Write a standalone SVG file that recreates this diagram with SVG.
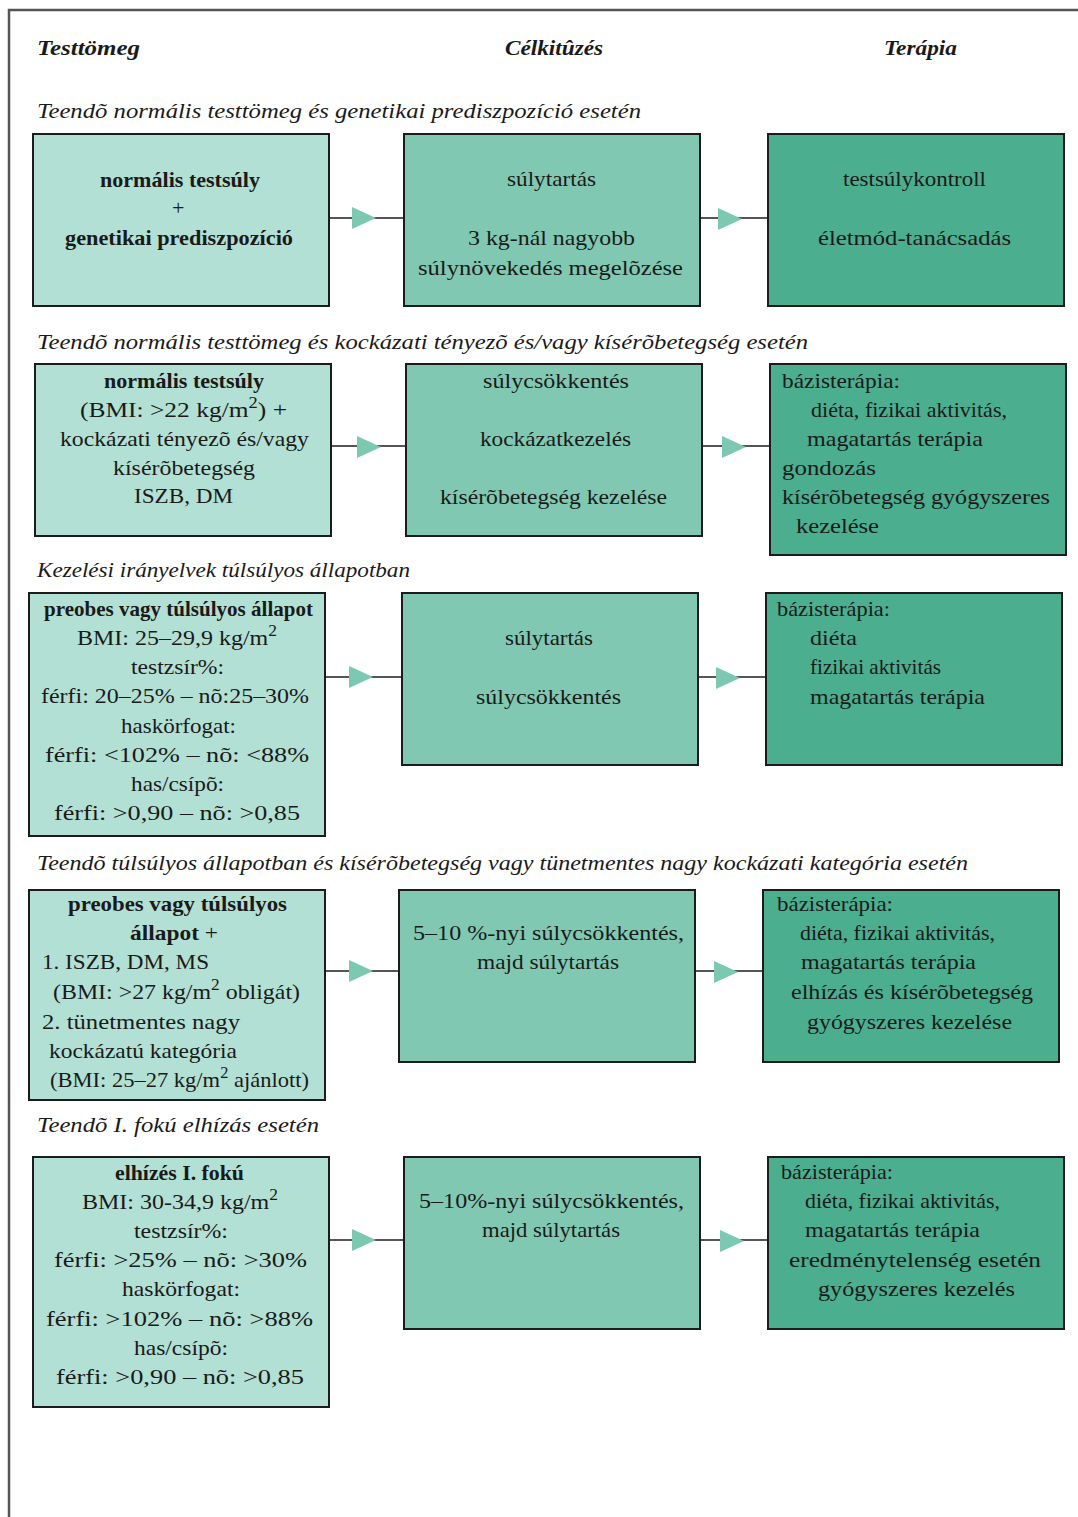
<svg xmlns="http://www.w3.org/2000/svg" width="1078" height="1517" viewBox="0 0 1078 1517">
<style>
text{font-family:"Liberation Serif","DejaVu Serif",serif;font-size:22px;fill:#1a1a1a}
.h{font-weight:bold;font-style:italic;font-size:21px}
.s{font-style:italic}
.b{font-weight:bold}
.a{fill:#b2e0d4;stroke:#1c1c1c;stroke-width:2}
.m{fill:#80c8b2;stroke:#1c1c1c;stroke-width:2}
.c{fill:#4bae8f;stroke:#1c1c1c;stroke-width:2}
.ln{stroke:#1c1c1c;stroke-width:1.6}
.tri{fill:#7cc8b0}
.sup{font-size:16px}
</style>
<defs>
<path id="tri" d="M0,-11 L24,0 L0,11 Z"/>
</defs>
<rect width="1078" height="1517" fill="#fff"/>
<path d="M9,1517 V10 H1078" fill="none" stroke="#555" stroke-width="2.5"/>

<g id="headers">
<text class="h" x="37" y="55" textLength="103" lengthAdjust="spacingAndGlyphs">Testtömeg</text>
<text class="h" x="505" y="55" textLength="98" lengthAdjust="spacingAndGlyphs">Célkitûzés</text>
<text class="h" x="884" y="55" textLength="73" lengthAdjust="spacingAndGlyphs">Terápia</text>
<text class="s" x="37" y="118" textLength="604" lengthAdjust="spacingAndGlyphs">Teendõ normális testtömeg és genetikai prediszpozíció esetén</text>
<text class="s" x="37" y="349" textLength="771" lengthAdjust="spacingAndGlyphs">Teendõ normális testtömeg és kockázati tényezõ és/vagy kísérõbetegség esetén</text>
<text class="s" x="37" y="577" textLength="373" lengthAdjust="spacingAndGlyphs">Kezelési irányelvek túlsúlyos állapotban</text>
<text class="s" x="37" y="870" textLength="931" lengthAdjust="spacingAndGlyphs">Teendõ túlsúlyos állapotban és kísérõbetegség vagy tünetmentes nagy kockázati kategória esetén</text>
<text class="s" x="37" y="1132" textLength="282" lengthAdjust="spacingAndGlyphs">Teendõ I. fokú elhízás esetén</text>
</g>

<g id="connectors">
<line class="ln" x1="329" y1="218" x2="404" y2="218"/><use href="#tri" class="tri" x="352" y="218"/>
<line class="ln" x1="700" y1="218" x2="768" y2="218"/><use href="#tri" class="tri" x="718" y="219"/>
<line class="ln" x1="331" y1="446" x2="406" y2="446"/><use href="#tri" class="tri" x="357" y="447"/>
<line class="ln" x1="702" y1="446" x2="770" y2="446"/><use href="#tri" class="tri" x="722" y="447"/>
<line class="ln" x1="325" y1="677" x2="402" y2="677"/><use href="#tri" class="tri" x="349" y="677"/>
<line class="ln" x1="698" y1="677" x2="766" y2="677"/><use href="#tri" class="tri" x="716" y="678"/>
<line class="ln" x1="325" y1="971" x2="399" y2="971"/><use href="#tri" class="tri" x="349" y="971"/>
<line class="ln" x1="695" y1="971" x2="763" y2="971"/><use href="#tri" class="tri" x="714" y="972"/>
<line class="ln" x1="329" y1="1240" x2="404" y2="1240"/><use href="#tri" class="tri" x="352" y="1240"/>
<line class="ln" x1="700" y1="1240" x2="768" y2="1240"/><use href="#tri" class="tri" x="720" y="1241"/>
</g>

<g id="r1a"><rect class="a" x="33" y="134" width="296" height="172"/>
<text class="b" x="100" y="187" textLength="160" lengthAdjust="spacingAndGlyphs">normális testsúly</text>
<text x="172" y="215">+</text>
<text class="b" x="65" y="245" textLength="228" lengthAdjust="spacingAndGlyphs">genetikai prediszpozíció</text></g>
<g id="r1b"><rect class="m" x="404" y="134" width="296" height="172"/>
<text x="507" y="186" textLength="89" lengthAdjust="spacingAndGlyphs">súlytartás</text>
<text x="468" y="245" textLength="167" lengthAdjust="spacingAndGlyphs">3 kg-nál nagyobb</text>
<text x="418" y="275" textLength="265" lengthAdjust="spacingAndGlyphs">súlynövekedés megelõzése</text></g>
<g id="r1c"><rect class="c" x="768" y="134" width="296" height="172"/>
<text x="843" y="186" textLength="143" lengthAdjust="spacingAndGlyphs">testsúlykontroll</text>
<text x="818" y="245" textLength="193" lengthAdjust="spacingAndGlyphs">életmód-tanácsadás</text></g>

<g id="r2a"><rect class="a" x="35" y="364" width="296" height="172"/>
<text class="b" x="104" y="388" textLength="160" lengthAdjust="spacingAndGlyphs">normális testsúly</text>
<text x="80" y="417" textLength="207" lengthAdjust="spacingAndGlyphs">(BMI: &gt;22 kg/m<tspan class="sup" dy="-9">2</tspan><tspan dy="9">)  +</tspan></text>
<text x="60" y="446" textLength="249" lengthAdjust="spacingAndGlyphs">kockázati tényezõ és/vagy</text>
<text x="113" y="475" textLength="142" lengthAdjust="spacingAndGlyphs">kísérõbetegség</text>
<text x="134" y="503" textLength="99" lengthAdjust="spacingAndGlyphs">ISZB, DM</text></g>
<g id="r2b"><rect class="m" x="406" y="364" width="296" height="172"/>
<text x="483" y="388" textLength="146" lengthAdjust="spacingAndGlyphs">súlycsökkentés</text>
<text x="480" y="446" textLength="151" lengthAdjust="spacingAndGlyphs">kockázatkezelés</text>
<text x="440" y="504" textLength="227" lengthAdjust="spacingAndGlyphs">kísérõbetegség kezelése</text></g>
<g id="r2c"><rect class="c" x="770" y="364" width="296" height="191"/>
<text x="782" y="388" textLength="118" lengthAdjust="spacingAndGlyphs">bázisterápia:</text>
<text x="811" y="417" textLength="196" lengthAdjust="spacingAndGlyphs">diéta, fizikai aktivitás,</text>
<text x="807" y="446" textLength="176" lengthAdjust="spacingAndGlyphs">magatartás terápia</text>
<text x="782" y="475" textLength="94" lengthAdjust="spacingAndGlyphs">gondozás</text>
<text x="782" y="504" textLength="268" lengthAdjust="spacingAndGlyphs">kísérõbetegség gyógyszeres</text>
<text x="796" y="533" textLength="83" lengthAdjust="spacingAndGlyphs">kezelése</text></g>

<g id="r3a"><rect class="a" x="29" y="593" width="296" height="243"/>
<text class="b" x="44" y="616" textLength="269" lengthAdjust="spacingAndGlyphs">preobes vagy túlsúlyos állapot</text>
<text x="77" y="645" textLength="200" lengthAdjust="spacingAndGlyphs">BMI: 25–29,9 kg/m<tspan class="sup" dy="-9">2</tspan></text>
<text x="131" y="674" textLength="93" lengthAdjust="spacingAndGlyphs">testzsír%:</text>
<text x="41" y="703" textLength="268" lengthAdjust="spacingAndGlyphs">férfi: 20–25% – nõ:25–30%</text>
<text x="121" y="733" textLength="115" lengthAdjust="spacingAndGlyphs">haskörfogat:</text>
<text x="45" y="762" textLength="264" lengthAdjust="spacingAndGlyphs">férfi: &lt;102% – nõ: &lt;88%</text>
<text x="131" y="791" textLength="93" lengthAdjust="spacingAndGlyphs">has/csípõ:</text>
<text x="54" y="820" textLength="246" lengthAdjust="spacingAndGlyphs">férfi: &gt;0,90 – nõ: &gt;0,85</text></g>
<g id="r3b"><rect class="m" x="402" y="593" width="296" height="172"/>
<text x="505" y="645" textLength="88" lengthAdjust="spacingAndGlyphs">súlytartás</text>
<text x="476" y="704" textLength="145" lengthAdjust="spacingAndGlyphs">súlycsökkentés</text></g>
<g id="r3c"><rect class="c" x="766" y="593" width="296" height="172"/>
<text x="777" y="616" textLength="113" lengthAdjust="spacingAndGlyphs">bázisterápia:</text>
<text x="810" y="645" textLength="47" lengthAdjust="spacingAndGlyphs">diéta</text>
<text x="810" y="674" textLength="131" lengthAdjust="spacingAndGlyphs">fizikai aktivitás</text>
<text x="810" y="704" textLength="175" lengthAdjust="spacingAndGlyphs">magatartás terápia</text></g>

<g id="r4a"><rect class="a" x="29" y="890" width="296" height="210"/>
<text class="b" x="68" y="911" textLength="219" lengthAdjust="spacingAndGlyphs">preobes vagy túlsúlyos</text>
<text x="130" y="940" textLength="88" lengthAdjust="spacingAndGlyphs"><tspan class="b">állapot</tspan>  +</text>
<text x="42" y="969" textLength="167" lengthAdjust="spacingAndGlyphs">1. ISZB, DM, MS</text>
<text x="53" y="999" textLength="247" lengthAdjust="spacingAndGlyphs">(BMI: &gt;27 kg/m<tspan class="sup" dy="-9">2</tspan><tspan dy="9"> obligát)</tspan></text>
<text x="42" y="1029" textLength="198" lengthAdjust="spacingAndGlyphs">2. tünetmentes nagy</text>
<text x="49" y="1058" textLength="188" lengthAdjust="spacingAndGlyphs">kockázatú kategória</text>
<text x="50" y="1087" textLength="259" lengthAdjust="spacingAndGlyphs">(BMI: 25–27 kg/m<tspan class="sup" dy="-9">2</tspan><tspan dy="9"> ajánlott)</tspan></text></g>
<g id="r4b"><rect class="m" x="399" y="890" width="296" height="172"/>
<text x="413" y="940" textLength="271" lengthAdjust="spacingAndGlyphs">5–10 %-nyi súlycsökkentés,</text>
<text x="477" y="969" textLength="142" lengthAdjust="spacingAndGlyphs">majd súlytartás</text></g>
<g id="r4c"><rect class="c" x="763" y="890" width="296" height="172"/>
<text x="777" y="911" textLength="116" lengthAdjust="spacingAndGlyphs">bázisterápia:</text>
<text x="800" y="940" textLength="195" lengthAdjust="spacingAndGlyphs">diéta, fizikai aktivitás,</text>
<text x="801" y="969" textLength="175" lengthAdjust="spacingAndGlyphs">magatartás terápia</text>
<text x="791" y="999" textLength="242" lengthAdjust="spacingAndGlyphs">elhízás és kísérõbetegség</text>
<text x="807" y="1029" textLength="205" lengthAdjust="spacingAndGlyphs">gyógyszeres kezelése</text></g>

<g id="r5a"><rect class="a" x="33" y="1157" width="296" height="250"/>
<text class="b" x="115" y="1180" textLength="129" lengthAdjust="spacingAndGlyphs">elhízés I. fokú</text>
<text x="82" y="1209" textLength="196" lengthAdjust="spacingAndGlyphs">BMI: 30-34,9 kg/m<tspan class="sup" dy="-9">2</tspan></text>
<text x="134" y="1238" textLength="94" lengthAdjust="spacingAndGlyphs">testzsír%:</text>
<text x="54" y="1267" textLength="253" lengthAdjust="spacingAndGlyphs">férfi: &gt;25% – nõ: &gt;30%</text>
<text x="122" y="1296" textLength="118" lengthAdjust="spacingAndGlyphs">haskörfogat:</text>
<text x="46" y="1326" textLength="267" lengthAdjust="spacingAndGlyphs">férfi: &gt;102% – nõ: &gt;88%</text>
<text x="134" y="1355" textLength="94" lengthAdjust="spacingAndGlyphs">has/csípõ:</text>
<text x="56" y="1384" textLength="248" lengthAdjust="spacingAndGlyphs">férfi: &gt;0,90 – nõ: &gt;0,85</text></g>
<g id="r5b"><rect class="m" x="404" y="1157" width="296" height="172"/>
<text x="419" y="1208" textLength="265" lengthAdjust="spacingAndGlyphs">5–10%-nyi súlycsökkentés,</text>
<text x="482" y="1237" textLength="138" lengthAdjust="spacingAndGlyphs">majd súlytartás</text></g>
<g id="r5c"><rect class="c" x="768" y="1157" width="296" height="172"/>
<text x="781" y="1179" textLength="112" lengthAdjust="spacingAndGlyphs">bázisterápia:</text>
<text x="805" y="1208" textLength="195" lengthAdjust="spacingAndGlyphs">diéta, fizikai aktivitás,</text>
<text x="805" y="1237" textLength="175" lengthAdjust="spacingAndGlyphs">magatartás terápia</text>
<text x="789" y="1267" textLength="252" lengthAdjust="spacingAndGlyphs">eredménytelenség esetén</text>
<text x="818" y="1296" textLength="197" lengthAdjust="spacingAndGlyphs">gyógyszeres kezelés</text></g>
</svg>
